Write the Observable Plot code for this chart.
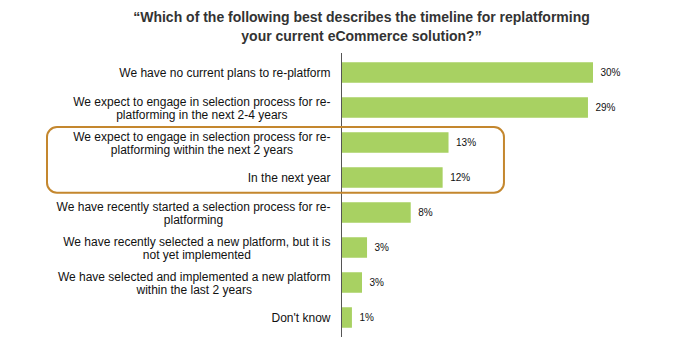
<!DOCTYPE html>
<html>
<head>
<meta charset="utf-8">
<script src="https://cdn.jsdelivr.net/npm/d3@7"></script>
<script src="https://cdn.jsdelivr.net/npm/@observablehq/plot@0.6"></script>
<style>
  html, body { margin: 0; padding: 0; background: #fff; }
  body { width: 699px; height: 352px; overflow: hidden; font-family: "Liberation Sans", Arial, sans-serif; }
  #title { box-sizing: border-box; height: 46px; padding-top: 8px; padding-left: 24px; text-align: center;
           font-weight: bold; font-size: 14px; line-height: 19px; color: #333; }
  svg { display: block; }
</style>
</head>
<body>
<div id="title">“Which of the following best describes the timeline for replatforming<br>your current eCommerce solution?”</div>
<div id="chart"></div>
<script>
const categories = [
  "We have no current plans to re-platform",
  "We expect to engage in selection process for re-\nplatforming in the next 2-4 years",
  "We expect to engage in selection process for re-\nplatforming within the next 2 years",
  "In the next year",
  "We have recently started a selection process for re-\nplatforming",
  "We have recently selected a new platform, but it is\nnot yet implemented",
  "We have selected and implemented a new platform\nwithin the last 2 years",
  "Don't know"
];
const values = [30, 29.4, 12.8, 12.1, 8.3, 3.1, 2.5, 1.3];
const valueLabels = ["30%", "29%", "13%", "12%", "8%", "3%", "3%", "1%"];
const highlighted = [categories[2], categories[3]];
const highlightEnd = 19.4;

(function () {
  const data = categories.map((c, i) => ({category: c, value: values[i], label: valueLabels[i]}));

  const plot = Plot.plot({
    width: 699,
    height: 306,
    marginLeft: 341,
    marginRight: 106,
    marginTop: 7,
    marginBottom: 15,
    x: {domain: [0, 30], axis: null},
    y: {domain: categories, padding: 0, label: null},
    style: {fontFamily: "'Liberation Sans', Arial, sans-serif", fontSize: "12px", color: "#111", background: "#fff"},
    marks: [
      Plot.barX(data, {x: "value", y: "category", fill: "#a8d162", insetTop: 7.25, insetBottom: 7.25}),
      Plot.ruleX([0], {stroke: "#555", strokeWidth: 1}),
      Plot.text(data, {x: "value", y: "category", text: "label", textAnchor: "start", dx: 7, fontSize: 10, fill: "#111"}),
      Plot.axisY({tickSize: 0, tickPadding: 11, fontSize: 12, lineHeight: 1.08, fill: "#111", label: null})
    ]
  });
  document.getElementById("chart").appendChild(plot);

  // center multi-line labels within their block (block right-aligned to the axis)
  plot.querySelectorAll('g[aria-label="y-axis tick label"] text').forEach(t => {
    const spans = t.querySelectorAll("tspan");
    if (spans.length > 1) {
      const w = Math.max(...Array.from(spans, s => s.getComputedTextLength()));
      t.setAttribute("text-anchor", "middle");
      spans.forEach(s => s.setAttribute("x", -w / 2));
    }
  });

  // highlight box around the two "near term" rows
  const ys = plot.scale("y"), xs = plot.scale("x");
  const bw = ys.bandwidth;
  const y0 = ys.apply(highlighted[0]) + 2;
  const y1 = ys.apply(highlighted[1]) + bw - 2.3;
  const x0 = xs.apply(0) - 294;
  const x1 = xs.apply(highlightEnd);
  const ns = "http://www.w3.org/2000/svg";
  const r = document.createElementNS(ns, "rect");
  r.setAttribute("x", x0);
  r.setAttribute("y", y0);
  r.setAttribute("width", x1 - x0);
  r.setAttribute("height", y1 - y0);
  r.setAttribute("rx", 10);
  r.setAttribute("fill", "none");
  r.setAttribute("stroke", "#c4872e");
  r.setAttribute("stroke-width", 2);
  plot.appendChild(r);
})();
</script>
</body>
</html>
